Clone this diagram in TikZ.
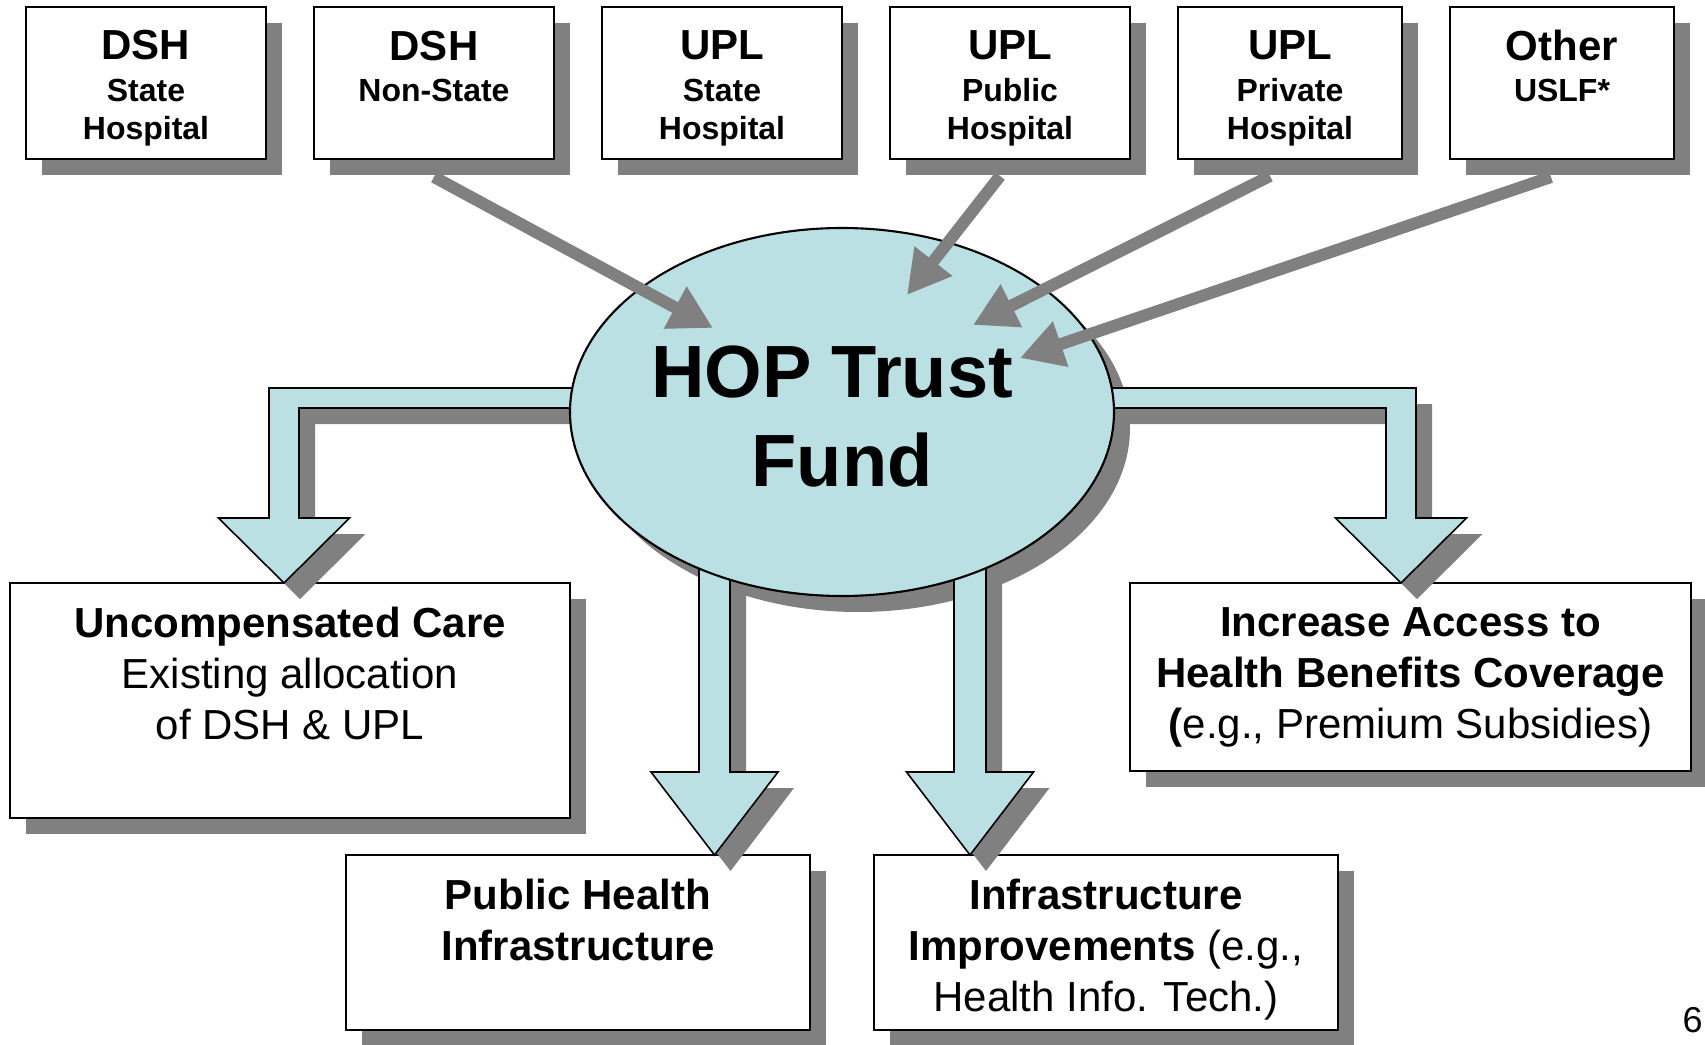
\documentclass[tikz,border=0pt]{standalone}
\usepackage{fontspec}
\setmainfont{Liberation Sans}
\usetikzlibrary{arrows.meta,positioning,shapes.geometric,shadows}
\definecolor{fundblue}{HTML}{BBE0E3}
\definecolor{dropgray}{HTML}{808080}
\tikzset{>={Triangle[length=0.43cm,width=0.45cm]}}
\newcommand\headsize{\fontsize{11.95}{10.67}\selectfont}
\tikzstyle{dropbox}=[drop shadow={shadow xshift=0.16cm,shadow yshift=-0.16cm,fill=dropgray,opacity=1}]
\tikzstyle{srcbox}=[rectangle,draw,line width=0.75pt,fill=white,dropbox,align=center,inner sep=0pt,outer sep=0pt,minimum width=2.4cm,text height=1.32cm,text depth=0.20cm,font=\bfseries\fontsize{9.1}{10.67}\selectfont]
\tikzstyle{outbox}=[rectangle,draw,line width=0.75pt,fill=white,dropbox,align=center,inner sep=0pt,outer sep=0pt,anchor=north,font=\fontsize{11.95}{14.37}\selectfont]
\tikzstyle{flow}=[draw,line width=0.45pt,fill=fundblue,dropbox]
\tikzstyle{feed}=[->,draw=dropgray,line width=0.12cm]

\begin{document}
\begin{tikzpicture}
  \useasboundingbox (0,0) rectangle (17.05,10.44);
  % sources
  \node[srcbox,anchor=north west] (dshstate) at (0.26,10.37) {{\headsize DSH}\\[1.28pt]State\\Hospital};
  \node[srcbox,text height=0.95cm,text depth=0.57cm,right=0.48cm of dshstate] (dshnon) {{\headsize DSH}\\[1.28pt]Non-State};
  \node[srcbox,right=0.48cm of dshnon] (uplstate) {{\headsize UPL}\\[1.28pt]State\\Hospital};
  \node[srcbox,right=0.48cm of uplstate] (uplpub) {{\headsize UPL}\\[1.28pt]Public\\Hospital};
  \node[srcbox,minimum width=2.24cm,right=0.48cm of uplpub] (uplpriv) {{\headsize UPL}\\[1.28pt]Private\\Hospital};
  \node[srcbox,minimum width=2.24cm,text height=0.95cm,text depth=0.57cm,right=0.48cm of uplpriv] (other) {{\headsize Other}\\[1.28pt]USLF*};
  % uses
  \node[outbox,minimum width=5.6cm,text height=1.56cm,text depth=0.79cm] (care) at (2.90,4.61) {\textbf{Uncompensated Care}\\Existing allocation\\of DSH \& UPL};
  \node[outbox,minimum width=4.64cm,text height=1.055cm,text depth=0.695cm] (pubhealth) at (5.78,1.89) {\textbf{Public Health}\\\textbf{Infrastructure}};
  \node[outbox,minimum width=4.64cm,text height=1.56cm,text depth=0.19cm] (infra) at (11.06,1.89) {\textbf{Infrastructure}\\\textbf{Improvements} (e.g.,\\Health Info. Tech.)};
  \node[outbox,minimum width=5.61cm,text height=1.55cm,text depth=0.33cm] (access) at (14.105,4.61) {\textbf{Increase Access to}\\\textbf{Health Benefits Coverage}\\\textbf{(}e.g., Premium Subsidies)};
  % shadow of the fund
  \fill[dropgray] (8.58,6.16) ellipse (2.72 and 1.84);
  % flows out of the fund
  \draw[flow] ([xshift=-0.06cm]care.north) -- ++(-0.655,0.65) -- ++(0.505,0) -- ++(0,1.3) -- ++(3.5,0) -- ++(0,-0.2) -- ++(-3.2,0) -- ++(0,-1.1) -- ++(0.505,0) -- cycle;
  \draw[flow] ([xshift=-0.095cm]access.north) -- ++(0.655,0.65) -- ++(-0.505,0) -- ++(0,1.3) -- ++(-3.5,0) -- ++(0,-0.2) -- ++(3.2,0) -- ++(0,-1.1) -- ++(-0.505,0) -- cycle;
  \draw[flow] ([xshift=1.365cm]pubhealth.north) -- ++(-0.635,0.83) -- ++(0.48,0) -- ++(0,2.4) -- ++(0.31,0) -- ++(0,-2.4) -- ++(0.48,0) -- cycle;
  \draw[flow] ([xshift=-1.36cm]infra.north) -- ++(-0.635,0.83) -- ++(0.475,0) -- ++(0,2.4) -- ++(0.32,0) -- ++(0,-2.4) -- ++(0.475,0) -- cycle;
  % fund
  \node[ellipse,draw,line width=0.6pt,fill=fundblue,minimum width=5.44cm,minimum height=3.68cm,inner sep=0pt,align=center,text height=1.48cm,text depth=0cm,font=\bfseries\fontsize{21.06}{25.3}\selectfont] (fund) at (8.42,6.32) {HOP Trust\kern0.2cm\\Fund};
  % feeds into the fund
  \coordinate (inA) at (7.13,7.16);
  \coordinate (inB) at (9.07,7.49);
  \coordinate (inC) at (9.73,7.19);
  \coordinate (inD) at (10.20,6.86);
  \draw[feed] ([yshift=-0.18cm]dshnon.south) -- (inA);
  \draw[feed] ([xshift=-0.1cm,yshift=-0.17cm]uplpub.south) -- (inB);
  \draw[feed] ([xshift=-0.2cm,yshift=-0.17cm]uplpriv.south) -- (inC);
  \draw[feed] ([xshift=-0.11cm,yshift=-0.18cm]other.south) -- (inD);
  \node[anchor=base west,inner sep=0pt,font=\fontsize{10.24}{12}\selectfont] (page) at (16.82,0.12) {6};
\end{tikzpicture}
\end{document}
